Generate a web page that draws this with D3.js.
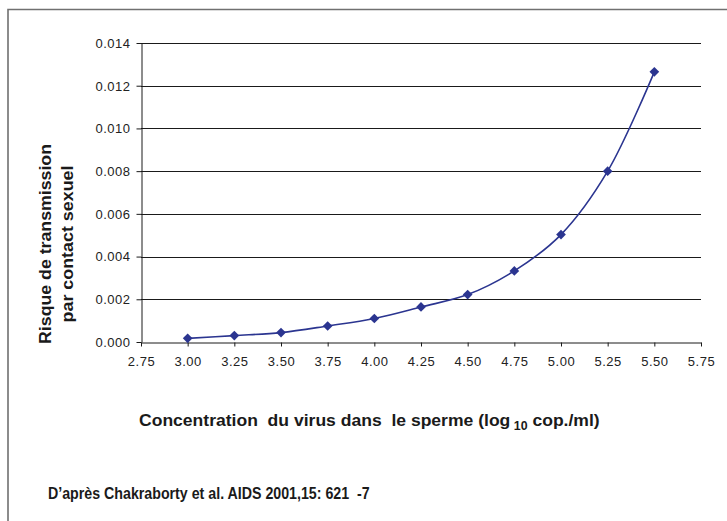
<!DOCTYPE html>
<html>
<head>
<meta charset="utf-8">
<script src="https://cdn.jsdelivr.net/npm/d3@7"></script>
<style>
  body { margin: 0; background: #fff; }
  svg { display: block; font-family: "Liberation Sans", Arial, sans-serif; }
  text { white-space: pre; }
</style>
</head>
<body>
<svg id="chart" width="727" height="521"></svg>
<script>
// concentration du virus (log10 cop./ml)
const concentrations = [3.00, 3.25, 3.50, 3.75, 4.00, 4.25, 4.50, 4.75, 5.00, 5.25, 5.50];
// risque de transmission par contact
const risks = [0.00017, 0.0003, 0.00044, 0.00075, 0.0011, 0.00164, 0.00222, 0.00333, 0.00503, 0.0080, 0.01265];
const xTicks = [2.75, 3.00, 3.25, 3.50, 3.75, 4.00, 4.25, 4.50, 4.75, 5.00, 5.25, 5.50, 5.75];
const yTicks = [0, 0.002, 0.004, 0.006, 0.008, 0.010, 0.012, 0.014];

const svg = d3.select('#chart');
const plot = {left: 141, right: 701, top: 43, bottom: 342};
const color = '#2b3590';

let x = d3.scaleLinear().domain([2.75, 5.75]).range([plot.left, plot.right]);
let y = d3.scaleLinear().domain([0, 0.014]).range([plot.bottom, plot.top]);

// squeeze/stretch a text node horizontally (in its own frame) to a given width
function fitWidth(g, width) {
  let w = g.node().getBBox().width;
  return w ? width / w : 1;
}

// frame
svg.append('path')
  .attr('d', 'M8,521 L8,9.5 L727,9.5')
  .attr('fill', 'none')
  .attr('stroke', '#707070')
  .attr('stroke-width', 1.6);

// gridlines
svg.append('g')
  .selectAll('line')
  .data(yTicks.slice(1))
  .join('line')
  .attr('x1', plot.left).attr('x2', plot.right)
  .attr('y1', d => Math.round(y(d)) + 0.5).attr('y2', d => Math.round(y(d)) + 0.5)
  .attr('stroke', '#1a1a1a')
  .attr('stroke-width', 1);

// y axis
let yAxis = svg.append('g')
  .attr('transform', `translate(${plot.left + 0.5},0)`)
  .call(d3.axisLeft(y).tickValues(yTicks).tickFormat(d3.format('.3f')).tickSize(5).tickSizeOuter(0));

// x axis
let xAxis = svg.append('g')
  .attr('transform', `translate(0,${Math.round(plot.bottom) + 0.5})`)
  .call(d3.axisBottom(x).tickValues(xTicks).tickFormat(d3.format('.2f')).tickSize(4).tickSizeOuter(0));

[yAxis, xAxis].forEach(function(g) {
  g.select('.domain').attr('stroke', '#1a1a1a');
  g.selectAll('.tick line').attr('stroke', '#1a1a1a');
  g.selectAll('.tick text')
    .attr('fill', '#222')
    .style('font-family', '"Liberation Sans", Arial, sans-serif')
    .style('font-size', '13px')
    .style('letter-spacing', '0.5px');
});
yAxis.selectAll('.tick text').attr('x', -11).attr('dy', '0.34em');
xAxis.selectAll('.tick text').attr('y', 14);

// line
let points = concentrations.map((c, i) => ({c: c, r: risks[i]}));
let line = d3.line()
  .x(d => x(d.c))
  .y(d => y(d.r))
  .curve(d3.curveCatmullRom.alpha(0.5));

svg.append('path')
  .datum(points)
  .attr('d', line)
  .attr('fill', 'none')
  .attr('stroke', color)
  .attr('stroke-width', 1.6);

svg.append('g')
  .selectAll('path')
  .data(points)
  .join('path')
  .attr('transform', d => `translate(${x(d.c)},${y(d.r)})`)
  .attr('d', d3.symbol(d3.symbolDiamond2, 60))
  .attr('fill', color);

// y title, two rotated lines
[['Risque de transmission', 45, 200], ['par contact sexuel', 67, 157]].forEach(function(l) {
  let t = svg.append('text')
    .attr('text-anchor', 'middle')
    .attr('dy', '0.35em')
    .style('font-size', '17px')
    .style('font-weight', 'bold')
    .attr('fill', '#1a1a1a')
    .text(l[0]);
  let k = fitWidth(t, l[2]);
  t.attr('transform', `translate(${l[1]},244) rotate(-90) scale(${k},1)`);
});

// x title
let xTitle = svg.append('text')
  .style('font-size', '17px')
  .style('font-weight', 'bold')
  .attr('fill', '#1a1a1a');
xTitle.append('tspan').text('Concentration  du virus dans  le sperme (log');
xTitle.append('tspan').attr('dy', 4).style('font-size', '12px').text(' 10');
xTitle.append('tspan').attr('dy', -4).text(' cop./ml)');
xTitle.attr('transform', `translate(139,426) scale(${fitWidth(xTitle, 461)},1)`);

// source
let source = svg.append('text')
  .style('font-size', '17px')
  .style('font-weight', 'bold')
  .attr('fill', '#1a1a1a')
  .text('D\u2019après Chakraborty et al. AIDS 2001,15: 621  -7');
source.attr('transform', `translate(48,499) scale(${fitWidth(source, 322)},1)`);
</script>
</body>
</html>
